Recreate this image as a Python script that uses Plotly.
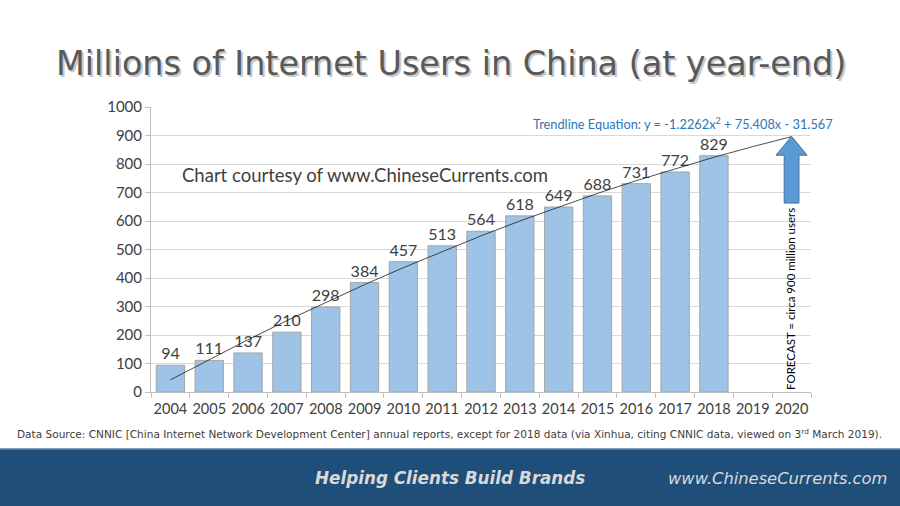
import numpy as np
import plotly.graph_objects as go

years = [str(y) for y in range(2004, 2021)]
users = [94, 111, 137, 210, 298, 384, 457, 513, 564, 618, 649, 688, 731, 772, 829, None, None]
y_ticks = list(range(0, 1001, 100))

title_text = "Millions of Internet Users in China (at year-end)"
courtesy_text = "Chart courtesy of www.ChineseCurrents.com"
trend_text = "Trendline Equation: y = -1.2262x<sup>2</sup> + 75.408x - 31.567"
forecast_text = "FORECAST = circa 900 million users"
source_text = ("Data Source: CNNIC [China Internet Network Development Center] annual reports, "
               "except for 2018 data (via Xinhua, citing CNNIC data, viewed on 3<sup>rd</sup> March 2019).")
slogan_text = "<b><i>Helping Clients Build Brands</i></b>"
site_text = "<i>www.ChineseCurrents.com</i>"

# polynomial (order 2) trendline fitted to the actual data, forecast forward to 2020
known = [(i + 1, v) for i, v in enumerate(users) if v is not None]
kx = np.array([k[0] for k in known], dtype=float)
ky = np.array([k[1] for k in known], dtype=float)
coef = np.polyfit(kx, ky, 2)
xi = np.arange(1, len(years) + 1)
trend = np.polyval(coef, xi)

LAB = "Lato"
L, R, T, B = 151, 89, 107, 114
fig = go.Figure()
fig.add_trace(go.Bar(
    x=years, y=users,
    marker=dict(color="#9DC3E6", line=dict(color="#A5A5A5", width=1)),
    text=[str(v) if v is not None else "" for v in users],
    textposition="outside", cliponaxis=False,
    textfont=dict(family=LAB, size=16, color="#404040"),
    hoverinfo="x+y", showlegend=False,
))
fig.add_trace(go.Scatter(
    x=years, y=trend, mode="lines",
    line=dict(color="#202020", width=0.8), showlegend=False, hoverinfo="skip",
))

# forecast arrow at 2020
arrow_path = ("M 15.81,663 L 16.19,663 L 16.19,831 L 16.4,831 L 16,897 "
              "L 15.6,831 L 15.81,831 Z")
fig.add_shape(type="path", path=arrow_path, xref="x", yref="y",
              fillcolor="#5B9BD5", line=dict(color="#41719C", width=1), layer="above")

fig.update_layout(
    width=900, height=506, autosize=False,
    margin=dict(l=L, r=R, t=T, b=B, autoexpand=False),
    paper_bgcolor="white", plot_bgcolor="white",
    bargap=0.27,
    xaxis=dict(
        type="category", categoryorder="array", categoryarray=years,
        showgrid=False, showline=True, linecolor="#BFBFBF", linewidth=1,
        ticks="outside", tickcolor="#BFBFBF", ticklen=5, tickson="boundaries",
        tickfont=dict(family=LAB, size=14.5, color="#404040"), tickangle=0,
        ticklabelstandoff=4,
        range=[-0.5, 16.5], fixedrange=True, automargin=False,
    ),
    yaxis=dict(
        range=[0, 1000], tickvals=y_ticks, showgrid=True, gridcolor="#D9D9D9",
        showline=True, linecolor="#BFBFBF", linewidth=1, zeroline=False,
        ticks="outside", tickcolor="#BFBFBF", ticklen=5,
        tickfont=dict(family=LAB, size=15, color="#404040"), fixedrange=True, automargin=False,
    ),
    font=dict(family=LAB),
)

PW = 900 - L - R
PH = 506 - T - B
def px(xp):
    return (xp - L) / PW
def py(yp):
    return (506 - B - yp) / PH

annotations = [
    dict(text=title_text, x=px(452.5), y=py(65.5), xanchor="center", yanchor="middle",
         font=dict(family="DejaVu Sans", size=33.4, color="#C8C8C8")),
    dict(text=title_text, x=px(451), y=py(64), xanchor="center", yanchor="middle",
         font=dict(family="DejaVu Sans", size=33.4, color="#595959")),
    dict(text=courtesy_text, x=px(365), y=py(175), xanchor="center", yanchor="middle",
         font=dict(family=LAB, size=18.5, color="#404040")),
    dict(text=trend_text, x=px(835), y=py(124), xanchor="right", yanchor="middle",
         font=dict(family=LAB, size=12.8, color="#2E75B6")),
    dict(text=forecast_text, x=px(790), y=py(299), xanchor="center", yanchor="middle",
         textangle=-90, font=dict(family=LAB, size=11.5, color="#000000")),
    dict(text=source_text, x=px(15), y=py(433), xanchor="left", yanchor="middle",
         font=dict(family="DejaVu Sans", size=10.55, color="#404040")),
    dict(text=slogan_text, x=px(450), y=py(478), xanchor="center", yanchor="middle",
         font=dict(family="DejaVu Sans", size=16.8, color="#D9D9D9")),
    dict(text=site_text, x=px(889), y=py(478), xanchor="right", yanchor="middle",
         font=dict(family="DejaVu Sans", size=16.3, color="#D9D9D9")),
]
for a in annotations:
    a.update(xref="paper", yref="paper", showarrow=False)
fig.update_layout(annotations=annotations)

# footer band
fig.add_shape(type="rect", xref="paper", yref="paper", x0=px(0), x1=px(900), y0=py(506), y1=py(449),
              fillcolor="#1F4E79", line=dict(width=0), layer="below")
fig.add_shape(type="line", xref="paper", yref="paper", x0=px(0), x1=px(900), y0=py(449), y1=py(449),
              line=dict(color="#5B7FA6", width=1.5), layer="below")

fig.write_html("out.html", config={"displayModeBar": False},
               post_script="document.body.style.margin='0px';document.body.style.overflow='hidden';")
